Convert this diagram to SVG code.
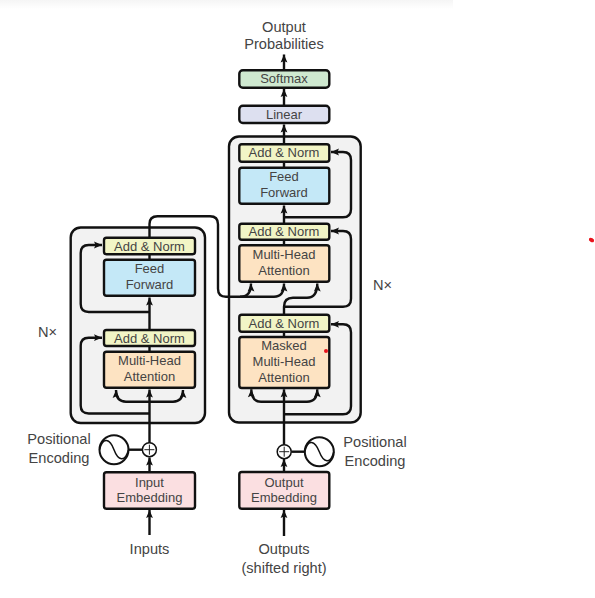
<svg xmlns="http://www.w3.org/2000/svg" width="595" height="598" viewBox="0 0 595 598">
<style>
text{font-family:"Liberation Sans",Arial,sans-serif;fill:#444;text-anchor:middle}
.s{font-size:13px}
.l{font-size:14.6px}
.box{stroke:#111;stroke-width:2.4}
.stack{fill:#f2f2f2;stroke:#111;stroke-width:2.4}
.an{fill:#f2f5c6}.ff{fill:#c4e8f7}.mh{fill:#fde3c2}.em{fill:#fbdfe1}.sm{fill:#cfe9d0}.ln{fill:#dde0f0}
.c{fill:none;stroke:#111;stroke-width:2.4}
.a{marker-end:url(#h)}
.o{fill:#fff;stroke:#111;stroke-width:1.5}
.r{fill:#fff;stroke:#111;stroke-width:2}
.w{fill:none;stroke:#111;stroke-width:1.5}
.p{fill:none;stroke:#222;stroke-width:1}
</style>
<defs>
<marker id="h" markerUnits="userSpaceOnUse" markerWidth="10" markerHeight="10" refX="8" refY="4" orient="auto" overflow="visible">
<path d="M0 .6L8 4L0 7.4L1.6 4Z" fill="#111"/>
</marker>
<linearGradient id="t" x1="0" y1="0" x2="0" y2="1"><stop offset="0" stop-color="#f5f5f5"/><stop offset="1" stop-color="#fff"/></linearGradient>
</defs>
<rect x="0" y="0" width="595" height="598" fill="#fff"/>
<rect x="0" y="0" width="453" height="9" fill="url(#t)"/>

<g id="encoder-stack"><rect class="stack" x="70.7" y="227.5" width="134.3" height="195.5" rx="10"/></g>
<g id="decoder-stack"><rect class="stack" x="229" y="136.5" width="131.7" height="286" rx="10"/></g>

<g id="connectors">
<path class="c a" d="M149.5 535V510"/>
<path class="c a" d="M149.5 472V457.5"/>
<path class="c a" d="M149.5 443V389.5"/>
<path class="c a" d="M149.5 413.5H88.7Q80.7 413.5 80.7 405.5V345.7Q80.7 337.7 88.7 337.7H102"/>
<path class="c a" d="M149.5 401.7H126Q116 401.7 116 390"/>
<path class="c a" d="M149.5 401.7H173Q183 401.7 183 390"/>
<path class="c" d="M149.5 352V346"/>
<path class="c a" d="M149.5 330V297.5"/>
<path class="c a" d="M149.5 312H88.7Q80.7 312 80.7 304V253Q80.7 245 88.7 245H102"/>
<path class="c" d="M149.5 260V254"/>
<path class="c" d="M149.5 238V224Q149.5 216.3 157.5 216.3H210Q218 216.3 218 224.3V288.7Q218 296.7 226 296.7H274Q284 296.7 284 284"/>
<path class="c a" d="M284 284V283.5"/>
<path class="c a" d="M240 296.7H241Q251 296.7 251 283.5"/>
<path class="c a" d="M284 314.7V306.7Q284 297.7 293 297.7H307Q317.3 297.7 317.3 283.5"/>
<path class="c a" d="M284 306.7H343Q351 306.7 351 298.7V239Q351 231 343 231H331"/>
<path class="c a" d="M284 536V510"/>
<path class="c a" d="M284 472V459"/>
<path class="c a" d="M284 445V389.3"/>
<path class="c a" d="M284 414.3H343Q351 414.3 351 406.3V332.3Q351 324.3 343 324.3H331"/>
<path class="c a" d="M284 401.7H261Q251.3 401.7 251.3 389.3"/>
<path class="c a" d="M284 401.7H307Q317.3 401.7 317.3 389.3"/>
<path class="c" d="M284 337V331.7"/>
<path class="c" d="M284 245.3V239.7"/>
<path class="c a" d="M284 223.7V205.5"/>
<path class="c a" d="M284 217.3H343Q351 217.3 351 209.3V160Q351 152 343 152H331"/>
<path class="c" d="M284 167.7V161.7"/>
<path class="c a" d="M284 144.3V124.5"/>
<path class="c a" d="M284 105.7V89"/>
<path class="c a" d="M284 70.3V54.5"/>
<path class="c" d="M128.5 449.7H142.5"/>
<path class="c" d="M291.3 451.7H305"/>
</g>

<g id="enc-add-norm-2"><rect class="box an" x="104" y="237.7" width="91" height="16.5" rx="2.5"/><text class="s" x="149.5" y="250.7">Add &amp; Norm</text></g>
<g id="enc-feed-forward"><rect class="box ff" x="104" y="259.7" width="91" height="36" rx="2.5"/><text class="s" x="149.5" y="273">Feed</text><text class="s" x="149.5" y="288.7">Forward</text></g>
<g id="enc-add-norm-1"><rect class="box an" x="104" y="330" width="91" height="16" rx="2.5"/><text class="s" x="149.5" y="342.7">Add &amp; Norm</text></g>
<g id="enc-attention"><rect class="box mh" x="104" y="351.7" width="91" height="36" rx="2.5"/><text class="s" x="149.5" y="365">Multi-Head</text><text class="s" x="149.5" y="380.7">Attention</text></g>
<g id="input-embedding"><rect class="box em" x="104" y="472.3" width="91" height="36.4" rx="2.5"/><text class="s" x="149.5" y="486.7">Input</text><text class="s" x="149.5" y="502.3">Embedding</text></g>

<g id="softmax"><rect class="box sm" x="239.3" y="70.3" width="90" height="17.4" rx="3.5"/><text class="s" x="284" y="83.3">Softmax</text></g>
<g id="linear"><rect class="box ln" x="239.3" y="105.7" width="90" height="17.3" rx="3.5"/><text class="s" x="284" y="119">Linear</text></g>
<g id="dec-add-norm-3"><rect class="box an" x="239.3" y="144.3" width="90" height="17.4" rx="2.5"/><text class="s" x="284" y="157.3">Add &amp; Norm</text></g>
<g id="dec-feed-forward"><rect class="box ff" x="239.3" y="167.7" width="90" height="36" rx="2.5"/><text class="s" x="284" y="181">Feed</text><text class="s" x="284" y="196.7">Forward</text></g>
<g id="dec-add-norm-2"><rect class="box an" x="239.3" y="223.7" width="90" height="16" rx="2.5"/><text class="s" x="284" y="236">Add &amp; Norm</text></g>
<g id="dec-attention"><rect class="box mh" x="239.3" y="245.3" width="90" height="36.4" rx="2.5"/><text class="s" x="284" y="259.3">Multi-Head</text><text class="s" x="284" y="275">Attention</text></g>
<g id="dec-add-norm-1"><rect class="box an" x="239.3" y="314.7" width="90" height="17" rx="2.5"/><text class="s" x="284" y="327.7">Add &amp; Norm</text></g>
<g id="dec-masked-attention"><rect class="box mh" x="239.3" y="337" width="90" height="51" rx="2.5"/><text class="s" x="284" y="350">Masked</text><text class="s" x="284" y="366">Multi-Head</text><text class="s" x="284" y="381.7">Attention</text></g>
<g id="output-embedding"><rect class="box em" x="239.3" y="472" width="90" height="36.7" rx="2.5"/><text class="s" x="284" y="486.7">Output</text><text class="s" x="284" y="502.3">Embedding</text></g>

<g id="enc-add"><circle class="o" cx="149.4" cy="449.7" r="7"/><path class="p" d="M144.4 449.7H154.4M149.4 444.7V454.7"/></g>
<g id="enc-wave"><circle class="r" cx="114" cy="449.7" r="14.5"/><path class="w" d="M99.5 449.7C103 436 110 439 114 449.7C118 460.5 125 463 128.5 449.7"/></g>
<g id="dec-add"><circle class="o" cx="284.2" cy="451.7" r="7"/><path class="p" d="M279.2 451.7H289.2M284.2 446.7V456.7"/></g>
<g id="dec-wave"><circle class="r" cx="319.3" cy="451.7" r="14.5"/><path class="w" d="M304.8 451.7C308 438 315 441 319.3 451.7C323.5 462.5 330.5 465 333.8 451.7"/></g>

<g id="labels">
<text class="l" x="284" y="31.7">Output</text>
<text class="l" x="284" y="49.3">Probabilities</text>
<text class="l" x="47.5" y="337">N×</text>
<text class="l" x="382.5" y="290">N×</text>
<text class="l" x="59" y="444">Positional</text>
<text class="l" x="59" y="463">Encoding</text>
<text class="l" x="375" y="447">Positional</text>
<text class="l" x="375" y="465.7">Encoding</text>
<text class="l" x="149.5" y="554">Inputs</text>
<text class="l" x="284" y="554">Outputs</text>
<text class="l" x="284" y="573">(shifted right)</text>
</g>
<circle cx="326" cy="351" r="2" fill="#e8141c"/>
<ellipse cx="591.5" cy="240" rx="2.8" ry="2" fill="#e8141c" transform="rotate(30 591.5 240)"/>
</svg>
